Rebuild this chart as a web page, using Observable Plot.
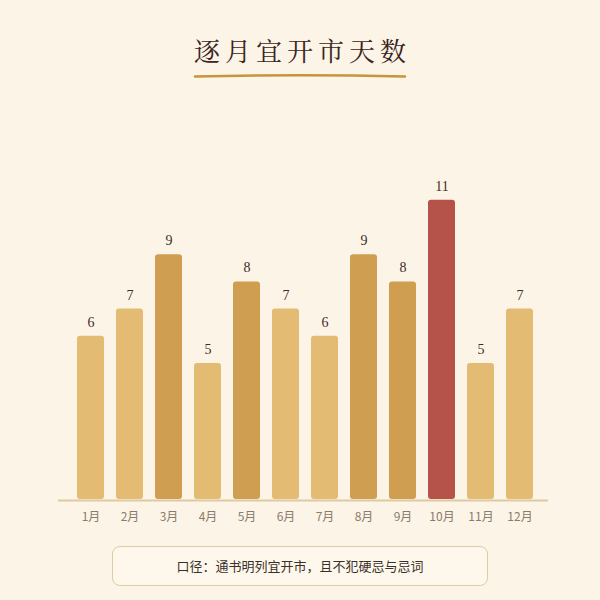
<!DOCTYPE html>
<html><head><meta charset="utf-8">
<script src="https://cdn.jsdelivr.net/npm/d3@7"></script>
<script src="https://cdn.jsdelivr.net/npm/@observablehq/plot@0.6"></script>
<style>
html,body{margin:0;padding:0;background:#FCF4E7;width:600px;height:600px;overflow:hidden;}
#wrap{position:relative;width:600px;height:600px;}
#title{position:absolute;left:0;top:32px;width:600px;text-align:center;font-family:"Noto Serif CJK SC","Songti SC",serif,"Noto Sans CJK SC";font-size:26px;line-height:36px;letter-spacing:5px;color:#3B2420;padding-left:5px;box-sizing:border-box;}
#uline{position:absolute;left:0;top:68px;}
#chart{position:absolute;left:0;top:100px;}
#cap{position:absolute;left:112px;top:546px;width:376px;height:40px;box-sizing:border-box;border:1.5px solid #DDCCA4;border-radius:8px;background:#FEF8EC;font-family:"Noto Sans CJK SC",sans-serif;font-size:13px;color:#3A302A;text-align:center;line-height:37px;}
</style></head>
<body><div id="wrap">
<div id="title">逐月宜开市天数</div>
<svg id="uline" width="600" height="16"><path d="M195,8.5 Q300,6 405,8.5" stroke="#C8943A" stroke-width="2.6" fill="none" stroke-linecap="round"/></svg>
<div id="chart"></div>
<div id="cap">口径：通书明列宜开市，且不犯硬忌与忌词</div>
</div>
<script>
const months = ["1月","2月","3月","4月","5月","6月","7月","8月","9月","10月","11月","12月"];
const days = [6,7,9,5,8,7,6,9,8,11,5,7];
const data = months.map((m,i)=>({month:m, days:days[i]}));
const maxDays = d3.max(days);
const tier = d => d.days === maxDays ? "max" : d.days >= 8 ? "high" : "normal";
const chart = Plot.plot({
  width: 600, height: 440,
  marginLeft: 60, marginRight: 50, marginTop: 72.6, marginBottom: 41,
  style: {background: "transparent", fontFamily: "'Noto Sans CJK SC', sans-serif"},
  x: {domain: months, paddingInner: 0.317, paddingOuter: 0.353, label: null, tickSize: 0, tickPadding: 13},
  y: {domain: [0, 12], axis: null},
  color: {domain: ["normal","high","max"], range: ["#E3BB72","#CF9E50","#B5524A"]},
  marks: [
    Plot.barY(data, {x: "month", y: "days", fill: d => tier(d), rx: 3}),
    Plot.ruleY([0], {stroke: "#DCCAA2", strokeWidth: 2, dy: 1, dx: -2}),
    Plot.text(data, {x: "month", y: "days", text: d => String(d.days), dy: -14, fontSize: 14, fill: "#3E2C28", fontFamily: "'Liberation Serif', 'DejaVu Serif', serif"}),
    Plot.axisX({tickSize: 0, tickPadding: 13, fontSize: 12, fill: "#8B7B6B", label: null})
  ]
});
document.getElementById("chart").appendChild(chart);
</script>
</body></html>
